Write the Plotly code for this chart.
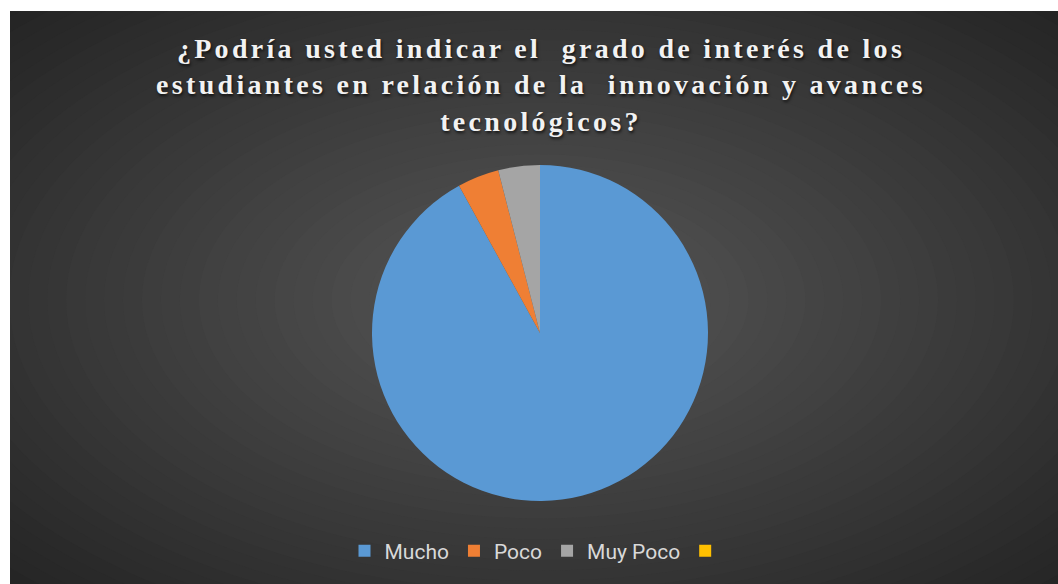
import plotly.graph_objects as go

categories = ["Mucho", "Poco", "Muy Poco", " "]
values = [23, 1, 1, 0]
colors = ["#5a99d4", "#ef7f34", "#a5a5a5", "#ffc000"]

title_lines = [
    "¿Podría usted indicar el  grado de interés de los",
    "estudiantes en relación de la  innovación y avances",
    "tecnológicos?",
]

W, H = 1058, 584
fig = go.Figure()
fig.add_trace(go.Pie(
    labels=categories, values=values, sort=False, direction="clockwise",
    rotation=0, textinfo="none", hoverinfo="label+value+percent",
    marker=dict(colors=colors, line=dict(width=0)),
    domain=dict(x=[372 / W, 708 / W], y=[1 - 501 / H, 1 - 165 / H]),
))

# radial gradient background using stacked ellipses
shapes = []
cx, cy = 540 / W, 1 - 300 / H
A, B = 523 * 1.45 / W, 287 * 1.45 / H
N = 40
c_center, c_edge = 88, 36
for k in range(N, 0, -1):
    f = k / N
    c = round(c_center + (c_edge - c_center) * f)
    shapes.append(dict(type="circle", xref="paper", yref="paper",
                       x0=cx - A * f, x1=cx + A * f, y0=cy - B * f, y1=cy + B * f,
                       fillcolor=f"rgb({c},{c},{c})", line=dict(width=0), layer="below"))
# white margins (left and top)
shapes.append(dict(type="rect", xref="paper", yref="paper", x0=-0.1, x1=10 / W, y0=-0.1, y1=1.1,
                   fillcolor="white", line=dict(width=0), layer="below"))
shapes.append(dict(type="rect", xref="paper", yref="paper", x0=-0.1, x1=1.1, y0=1 - 11 / H, y1=1.1,
                   fillcolor="white", line=dict(width=0), layer="below"))

title_text = "<br>".join(f'<span style="letter-spacing:3.3px">{t}</span>' for t in title_lines)

fig.update_layout(
    width=W, height=H,
    margin=dict(l=0, r=0, t=0, b=0),
    paper_bgcolor="#262626",
    shapes=shapes,
    title=dict(text=title_text, x=541 / W, xanchor="center", y=1 - 58 / H, yanchor="top",
               font=dict(family="Liberation Serif", size=28, color="#f2f2f2", weight="bold",
                         shadow="1px 2px 3px rgba(0,0,0,0.7)")),
    showlegend=True,
    legend=dict(orientation="h", x=540 / W, xanchor="center", y=1 - 551 / H, yanchor="middle",
                font=dict(family="Roboto", size=21, color="#d9d9d9"),
                bgcolor="rgba(0,0,0,0)", itemclick=False),
)

fig.write_html("out.html")
